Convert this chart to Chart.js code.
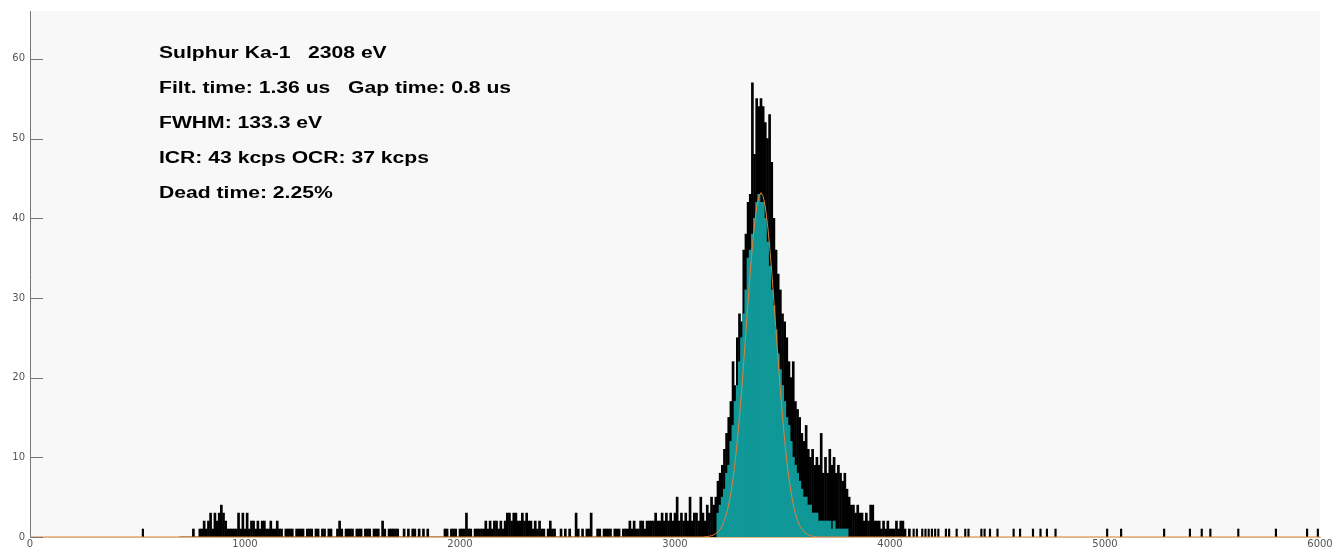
<!DOCTYPE html>
<html>
<head>
<meta charset="utf-8">
<script src="https://cdn.jsdelivr.net/npm/chart.js@4.4.1/dist/chart.umd.min.js"></script>
<style>
  html, body { margin: 0; padding: 0; background: #ffffff; overflow: hidden; }
  #wrap { width: 1336px; height: 548px; position: relative; }
</style>
</head>
<body>
<div id="wrap"><canvas id="myChart"></canvas></div>
<script>
// spectrum counts, 10 eV channels starting at 700
const binStart = 700;
const binWidth = 10;
const counts = [
  0, 0, 0, 0, 0, 0, 1, 0, 0, 1,
  1, 2, 1, 2, 3, 1, 3, 2, 3, 4,
  3, 2, 1, 1, 1, 1, 1, 3, 1, 3,
  1, 3, 1, 2, 2, 1, 2, 1, 2, 2,
  1, 1, 2, 1, 1, 2, 1, 1, 0, 1,
  1, 1, 1, 0, 1, 1, 1, 1, 0, 1,
  1, 1, 0, 1, 1, 0, 1, 1, 0, 1,
  1, 0, 0, 1, 2, 1, 0, 1, 1, 1,
  1, 0, 1, 1, 1, 0, 1, 1, 1, 0,
  1, 1, 1, 0, 2, 1, 0, 1, 1, 1,
  1, 1, 0, 0, 1, 0, 1, 0, 1, 1,
  0, 1, 0, 1, 0, 1, 0, 0, 0, 0,
  0, 0, 0, 1, 1, 0, 1, 1, 1, 0,
  1, 1, 1, 3, 1, 1, 0, 1, 1, 1,
  1, 1, 2, 1, 2, 1, 2, 2, 1, 2,
  1, 2, 3, 3, 2, 3, 3, 2, 2, 3,
  2, 3, 2, 2, 1, 2, 1, 2, 1, 1,
  0, 1, 2, 1, 1, 0, 0, 1, 0, 1,
  0, 1, 0, 0, 3, 1, 0, 1, 0, 1,
  1, 3, 0, 0, 1, 1, 0, 1, 1, 1,
  1, 0, 1, 1, 1, 0, 1, 1, 1, 2,
  1, 2, 1, 1, 2, 2, 1, 2, 2, 2,
  2, 3, 2, 2, 3, 2, 3, 2, 3, 2,
  3, 5, 2, 3, 2, 3, 2, 5, 2, 3,
  3, 2, 5, 3, 2, 4, 3, 5, 4, 5,
  7, 8, 9, 11, 13, 15, 17, 22, 19, 25,
  28, 27, 36, 38, 42, 43, 57, 48, 55, 54,
  55, 54, 52, 50, 53, 47, 40, 36, 33, 31,
  28, 27, 25, 22, 20, 22, 17, 16, 15, 13,
  12, 14, 11, 10, 11, 9, 10, 9, 13, 8,
  10, 8, 11, 9, 10, 8, 9, 8, 7, 8,
  6, 5, 4, 4, 3, 4, 3, 3, 2, 3,
  2, 4, 4, 2, 2, 2, 1, 2, 1, 2,
  1, 1, 1, 2, 1, 2, 2, 1, 0, 1
];

// isolated single counts away from the main band
const spikeX = [525, 4110, 4125, 4150, 4165, 4180, 4195, 4210, 4225, 4260, 4275, 4310, 4350, 4365,
  4425, 4440, 4465, 4500, 4575, 4605, 4665, 4700, 4730, 4770, 5010, 5075, 5275, 5395, 5450, 5490,
  5620, 5795, 5940, 5990];
const spikeCounts = [1, 1, 1, 1, 1, 1, 1, 1, 1, 1, 1, 1, 1, 1, 1, 1, 1, 1, 1, 1, 1, 1, 1, 1, 1, 1,
  1, 1, 1, 1, 1, 1, 1, 1];

// region of interest (teal)
const roiStart = 3200;
const roiCounts = [
  3, 4, 5, 6, 8, 9, 12, 14, 17, 19,
  22, 25, 28, 31, 35, 36, 38, 40, 42, 43,
  42, 42, 40, 37, 34, 31, 29, 26, 23, 21,
  19, 17, 15, 14, 12, 10, 9, 8, 7, 6,
  5, 5, 4, 4, 3, 3, 3, 2, 2, 2,
  2, 2, 2, 1, 2, 1, 1, 1, 1, 1, 1
];

// gaussian fit, read every 10 eV
const fitStart = 3130;
const fitValues = [
  0, 0.03, 0.06, 0.1, 0.17, 0.27, 0.42, 0.65, 0.98, 1.44, 2.08, 2.94, 4.07, 5.52, 7.32, 9.52,
  12.12, 15.12, 18.45, 22.06, 25.82, 29.6, 33.23, 36.52, 39.3, 41.42, 42.75, 43.2,
  42.75, 41.42, 39.3, 36.52, 33.23, 29.6, 25.82, 22.06, 18.45, 15.12, 12.12, 9.52, 7.32, 5.52,
  4.07, 2.94, 2.08, 1.44, 0.98, 0.65, 0.42, 0.27, 0.17, 0.1, 0.06, 0.03, 0
];

const xTicks = [0, 1000, 2000, 3000, 4000, 5000, 6000];
const yTicks = [0, 10, 20, 30, 40, 50, 60];

const infoLines = [
  "Sulphur Ka-1   2308 eV",
  "Filt. time: 1.36 us   Gap time: 0.8 us",
  "FWHM: 133.3 eV",
  "ICR: 43 kcps OCR: 37 kcps",
  "Dead time: 2.25%"
];

const spectro = counts.map((c, i) => ({ x: binStart + i * binWidth, y: c }));
const spikes = spikeX.map((x, i) => ({ x: x, y: spikeCounts[i] }));
const roi = roiCounts.map((c, i) => ({ x: roiStart + i * binWidth, y: c }));
const fit = [{ x: 0, y: 0 }]
  .concat(fitValues.map((v, i) => ({ x: fitStart + i * binWidth, y: v })))
  .concat([{ x: 6000, y: 0 }]);

const fondo = {
  id: "fondo",
  beforeDraw(chart) {
    const { ctx, chartArea } = chart;
    ctx.save();
    ctx.fillStyle = "#f8f8f8";
    ctx.fillRect(chartArea.left, chartArea.top, chartArea.right - chartArea.left, chartArea.bottom - chartArea.top);
    ctx.restore();
  }
};

const marcas = {
  id: "marcas",
  afterDraw(chart) {
    const { ctx, chartArea } = chart;
    const y = chart.scales.y;
    ctx.save();
    ctx.strokeStyle = "#777777";
    ctx.lineWidth = 1;
    yTicks.forEach((v) => {
      const py = Math.round(y.getPixelForValue(v)) + 0.5;
      ctx.beginPath();
      ctx.moveTo(chartArea.left, py);
      ctx.lineTo(chartArea.left + 13, py);
      ctx.stroke();
    });
    // info text
    ctx.fillStyle = "#000000";
    ctx.font = "bold 16px 'Liberation Sans', Arial, sans-serif";
    ctx.textBaseline = "alphabetic";
    infoLines.forEach((t, i) => {
      ctx.save();
      ctx.translate(159, 58 + i * 35);
      ctx.scale(1.32, 1);
      ctx.fillText(t, 0, 0);
      ctx.restore();
    });
    ctx.restore();
  }
};

const config = {
  data: {
    datasets: [
      {
        type: "line",
        data: fit,
        borderColor: "rgb(222, 128, 60)",
        borderWidth: 1,
        pointRadius: 0,
        tension: 0,
        order: 0
      },
      {
        type: "bar",
        data: roi,
        backgroundColor: "rgb(16, 152, 152)",
        barThickness: 2.3,
        grouped: false,
        order: 1
      },
      {
        type: "bar",
        data: spectro,
        backgroundColor: "#000000",
        barThickness: 2,
        grouped: false,
        order: 2
      },
      {
        type: "bar",
        data: spikes,
        backgroundColor: "#000000",
        barThickness: 1.5,
        grouped: false,
        order: 2
      }
    ]
  },
  options: {
    responsive: true,
    maintainAspectRatio: false,
    animation: false,
    events: [],
    layout: { padding: { top: 9, right: 16, left: 0, bottom: 0 } },
    plugins: { legend: { display: false }, tooltip: { enabled: false } },
    scales: {
      x: {
        type: "linear",
        min: 0,
        max: 6000,
        offset: false,
        afterFit(scale) { scale.height = 11; },
        afterBuildTicks(scale) { scale.ticks = xTicks.map((v) => ({ value: v })); },
        grid: { display: false, drawTicks: false, offset: false },
        border: { display: true, color: "rgb(226, 180, 130)", width: 1 },
        ticks: {
          padding: 1,
          maxRotation: 0,
          autoSkip: false,
          color: "#555555",
          font: { family: "'DejaVu Sans', sans-serif", size: 10 },
          callback: (v) => String(v)
        }
      },
      y: {
        min: 0,
        max: 66,
        afterFit(scale) { scale.width = 30; },
        afterBuildTicks(scale) { scale.ticks = yTicks.map((v) => ({ value: v })); },
        grid: { display: false, drawTicks: false },
        border: { display: true, color: "#777777", width: 1 },
        ticks: {
          padding: 5,
          color: "#555555",
          font: { family: "'DejaVu Sans', sans-serif", size: 10 }
        }
      }
    }
  },
  plugins: [fondo, marcas]
};

const myChart = document.getElementById("myChart");
new Chart(myChart, config);
</script>
</body>
</html>
